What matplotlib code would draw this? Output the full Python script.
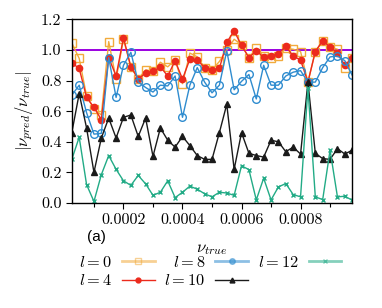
import numpy as np
import matplotlib
matplotlib.use('Agg')
import matplotlib.pyplot as plt
from matplotlib.lines import Line2D
from matplotlib.ticker import FixedLocator, FormatStrFormatter

# step of nu_true
nu_true = 0.000025 * np.arange(1, 40)

ratio_l0 = [1.046, 0.945, 0.70, 0.615, 0.575, 1.055, 0.81, 1.07, 0.89, 0.81,
            0.87, 0.86, 0.92, 0.89, 0.935, 0.78, 0.98, 0.955, 0.885, 0.87,
            0.925, 1.0, 1.07, 1.035, 0.95, 1.01, 0.96, 0.948, 0.96, 1.01,
            1.005, 0.99, 0.79, 0.99, 1.06, 1.02, 1.005, 0.88, 0.95]
ratio_l4 = [0.915, 0.88, 0.69, 0.625, 0.545, 0.95, 0.83, 1.08, 0.89, 0.81,
            0.85, 0.86, 0.89, 0.83, 0.93, 0.81, 0.94, 0.935, 0.885, 0.87,
            0.88, 1.05, 1.125, 1.03, 0.95, 0.995, 0.952, 0.96, 0.975, 1.025,
            0.96, 0.935, 0.79, 0.99, 1.06, 1.02, 0.98, 0.90, 0.95]
ratio_l8 = [0.705, 0.77, 0.59, 0.45, 0.455, 0.95, 0.69, 0.90, 0.985, 0.79,
            0.755, 0.725, 0.77, 0.765, 0.83, 0.56, 0.77, 0.885, 0.79, 0.72,
            0.77, 0.995, 0.74, 0.795, 0.84, 0.68, 0.90, 0.77, 0.77, 0.83,
            0.855, 0.865, 0.79, 0.79, 0.885, 0.955, 0.96, 0.93, 0.835]
ratio_l10 = [0.46, 0.715, 0.49, 0.20, 0.425, 0.555, 0.425, 0.56, 0.575, 0.435,
             0.555, 0.305, 0.49, 0.41, 0.365, 0.435, 0.375, 0.31, 0.285, 0.285,
             0.46, 0.645, 0.22, 0.46, 0.325, 0.31, 0.30, 0.41, 0.40, 0.335,
             0.365, 0.32, 0.79, 0.325, 0.29, 0.285, 0.355, 0.32, 0.345]
ratio_l12 = [0.285, 0.43, 0.12, 0.01, 0.185, 0.31, 0.22, 0.145, 0.115, 0.18,
             0.125, 0.05, 0.07, 0.145, 0.035, 0.07, 0.11, 0.09, 0.06, 0.04,
             0.07, 0.065, 0.05, 0.243, 0.218, 0.02, 0.162, 0.02, 0.105, 0.127,
             0.055, 0.04, 0.75, 0.04, 0.022, 0.345, 0.04, 0.044, 0.018]

x_ticks = [0.0002, 0.0004, 0.0006, 0.0008]
x_minor = [0.0001, 0.0003, 0.0005, 0.0007, 0.0009]
y_ticks = [0.0, 0.2, 0.4, 0.6, 0.8, 1.0, 1.2]

plt.rcParams['font.family'] = 'serif'
plt.rcParams['font.serif'] = ['cmr10']
plt.rcParams['mathtext.fontset'] = 'cm'
plt.rcParams['axes.formatter.use_mathtext'] = True

c0, c4, c8, c10, c12 = '#f2ab3c', '#ec2a1c', '#2f8ccf', '#1a1a1a', '#22ab86'

fig = plt.figure(figsize=(3.82, 3.08), dpi=100)
ax = fig.add_axes([0.188, 0.341, 0.734, 0.596])

ax.axhline(1.0, color='#9b00e0', lw=1.4, zorder=1)

ax.plot(nu_true, ratio_l0, color=c0, lw=1.0, marker='s', ms=5.5, mfc='none', mew=1.0)
ax.plot(nu_true, ratio_l4, color=c4, lw=1.0, marker='o', ms=4.5)
ax.plot(nu_true, ratio_l8, color=c8, lw=1.0, marker='o', ms=5.5, mfc='none', mew=1.0)
ax.plot(nu_true, ratio_l10, color=c10, lw=1.0, marker='^', ms=4.5)
ax.plot(nu_true, ratio_l12, color=c12, lw=1.0, marker='x', ms=3.5, mew=1.0)

ax.set_xlim(nu_true[0], nu_true[-1])
ax.set_ylim(0, 1.2)
ax.xaxis.set_major_locator(FixedLocator(x_ticks))
ax.xaxis.set_minor_locator(FixedLocator(x_minor))
ax.xaxis.set_major_formatter(FormatStrFormatter('%.4f'))
ax.yaxis.set_major_locator(FixedLocator(y_ticks))
ax.yaxis.set_major_formatter(FormatStrFormatter('%.1f'))
ax.tick_params(direction='out', labelsize=11.5, length=4, width=0.8)
ax.tick_params(which='minor', direction='out', length=3, width=0.8)
for s in ax.spines.values():
    s.set_linewidth(1.0)

ax.set_xlabel(r'$\nu_{true}$', fontsize=12, labelpad=10.5)
ax.set_ylabel(r'$|\nu_{pred}/\nu_{true}|$', fontsize=12)

fig.text(0.228, 0.23, '(a)', fontsize=11, family='Liberation Sans', va='center')

# legend handles look a bit different from the plotted lines
handles = [
    Line2D([], [], color=c0, alpha=0.55, lw=2.0, marker='s', ms=4, mfc='none', mew=1.0),
    Line2D([], [], color=c4, lw=1.0, marker='o', ms=3.5),
    Line2D([], [], color=c8, alpha=0.55, lw=2.0, marker='o', ms=4, mew=1.0),
    Line2D([], [], color=c10, lw=1.0, marker='^', ms=3.5),
    Line2D([], [], color=c12, alpha=0.55, lw=2.0, marker='x', ms=3.5, mew=1.0),
]
labels = [r'$l=0$', r'$l=4$', r'$l=8$', r'$l=10$', r'$l=12$']
fig.legend(handles, labels, loc='upper center', bbox_to_anchor=(0.55, 0.22),
           ncol=3, frameon=False, markerfirst=False, fontsize=11.8,
           handlelength=2.0, columnspacing=0.6, handletextpad=0.6,
           labelspacing=0.2)

fig.savefig('out.png', dpi=100)
